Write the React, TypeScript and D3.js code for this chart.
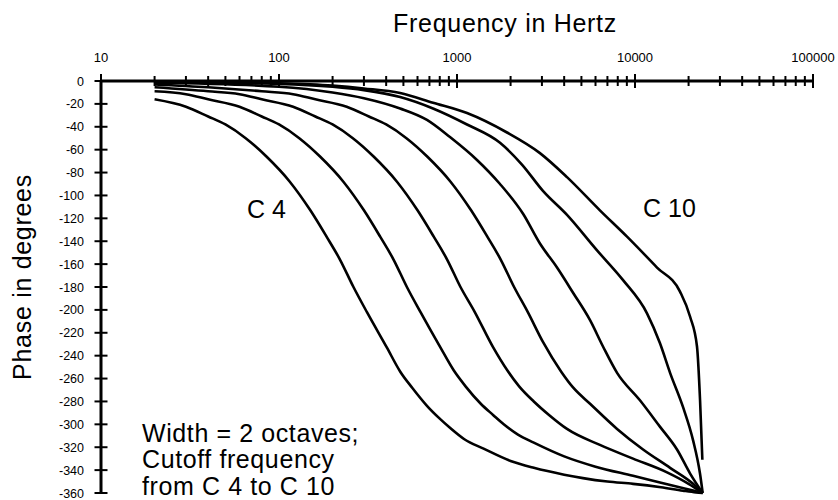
import React from "react";
import * as d3 from "d3";

const W = 838;
const H = 500;

const xMajorTicks = [10, 100, 1000, 10000, 100000];
const xMinorMult = [2, 3, 4, 5, 6, 7, 8, 9];
const yTicks = [0, -20, -40, -60, -80, -100, -120, -140, -160, -180, -200, -220, -240, -260, -280, -300, -320, -340, -360];

const c4F = [20, 30, 40, 50, 65, 85, 115, 150, 185, 220, 262, 312, 404, 480, 560, 680, 800, 913, 1100, 1400, 2000, 2700, 4000, 5100, 7000, 9750, 14000, 18600, 22000, 24000];
const c4P = [-16, -22.5, -31, -38, -50, -66, -88, -113, -136, -156, -180, -202, -233, -254, -268, -284, -295, -303, -313, -321, -332, -338, -344, -347, -350, -352, -355, -358, -359.5, -360];

const c5F = [20, 30, 40, 60, 80, 100, 130, 170, 230, 300, 370, 440, 523, 624, 808, 960, 1120, 1360, 1600, 1830, 2200, 2700, 4000, 6000, 9750, 14000, 19000, 22000, 24000];
const c5P = [-9, -11.5, -16, -22.5, -31, -38, -50, -66, -88, -113, -136, -156, -180, -202, -233, -253, -267, -282, -292, -300, -309, -316, -328, -337, -345, -351, -356, -358.5, -360];

const c6F = [20, 40, 60, 80, 120, 160, 200, 260, 340, 460, 600, 740, 880, 1046, 1250, 1600, 1920, 2240, 2700, 3300, 4150, 6350, 9750, 15130, 20000, 24000];
const c6P = [-5.5, -9, -11.5, -16, -22.5, -31, -38, -50, -66, -88, -113, -136, -156, -180, -201, -233, -253, -267, -280, -292, -304, -318, -330, -342, -352, -360];

const c7F = [20, 40, 80, 120, 160, 240, 320, 400, 520, 680, 920, 1200, 1480, 1760, 2093, 2500, 3040, 3850, 4500, 5590, 7930, 11100, 15740, 21200, 24000];
const c7P = [-3, -5.5, -9, -11.5, -16, -22.5, -31, -38, -50, -66, -88, -113, -136, -156, -180, -202, -228, -254, -268, -282, -304, -322, -338, -352, -360];

const c8F = [20, 100, 200, 300, 479, 678, 913, 1295, 1744, 2350, 2924, 3647, 4487, 5590, 6610, 7930, 10660, 13800, 17220, 20400, 24000];
const c8P = [-1.5, -5, -10, -15, -24, -34, -49, -69, -90, -116, -142, -163, -185, -209, -232, -255, -279, -302, -322, -343, -360];

const c9F = [20, 100, 200, 300, 479, 733, 1138, 1744, 2317, 3040, 4150, 6120, 8570, 11680, 13800, 15740, 18620, 21200, 23180, 24000];
const c9P = [-1, -2.5, -5, -8, -14, -24, -38, -54, -73, -96, -117, -148, -174, -203, -229, -255, -285, -314, -343, -360];

const c10F = [20, 100, 200, 300, 479, 733, 1138, 1910, 2924, 4150, 6350, 9020, 13300, 17900, 20400, 22300, 23200, 23900];
const c10P = [-0.5, -2, -4, -6.5, -10.5, -19, -28, -45, -63, -84, -113, -136, -163, -184, -206, -232, -279, -331];

const seriesF = [c4F, c5F, c6F, c7F, c8F, c9F, c10F];
const seriesP = [c4P, c5P, c6P, c7P, c8P, c9P, c10P];

const FONT = "'Liberation Sans', Arial, Helvetica, sans-serif";

export default function App() {
  const x = d3.scaleLog().domain([10, 100000]).range([101, 813]);
  const y = d3.scaleLinear().domain([0, -360]).range([81, 493]);

  const line = d3
    .line<[number, number]>()
    .x((d) => x(d[0]))
    .y((d) => y(d[1]))
    .curve(d3.curveMonotoneX);

  const minorTicks: number[] = [];
  xMajorTicks.slice(0, -1).forEach((m) => xMinorMult.forEach((k) => minorTicks.push(m * k)));

  const y0 = y(0);
  const x0 = x(10);

  return (
    <svg
      width={W}
      height={H}
      style={{ position: "absolute", left: 0, top: 0, background: "#fff" }}
      fontFamily={FONT}
    >
      <rect x={0} y={0} width={W} height={H} fill="#fff" />
      {/* x axis */}
      <line x1={x(10)} x2={x(100000)} y1={y0} y2={y0} stroke="#000" strokeWidth={3} />
      {minorTicks.map((t) => (
        <line key={"mi" + t} x1={x(t)} x2={x(t)} y1={y0 - 5} y2={y0 + 5} stroke="#000" strokeWidth={2} />
      ))}
      {xMajorTicks.map((t) => (
        <line key={"ma" + t} x1={x(t)} x2={x(t)} y1={y0 - 7} y2={y0 + 7} stroke="#000" strokeWidth={2} />
      ))}
      {xMajorTicks.map((t) => (
        <text key={"xl" + t} x={x(t)} y={62} fontSize={13} textAnchor="middle" fill="#000">
          {String(t)}
        </text>
      ))}
      {/* y axis */}
      <line x1={x0} x2={x0} y1={y(0)} y2={y(-360)} stroke="#000" strokeWidth={3} />
      {yTicks.map((t) => (
        <line key={"yt" + t} x1={x0 - 6.5} x2={x0 + 6.5} y1={y(t)} y2={y(t)} stroke="#000" strokeWidth={2} />
      ))}
      {yTicks.map((t) => (
        <text key={"yl" + t} x={84} y={y(t) + 4.5} fontSize={12.5} textAnchor="end" fill="#000">
          {String(t)}
        </text>
      ))}
      {/* curves */}
      {seriesF.map((fs, i) => {
        const pts = fs.map((f, j) => [f, seriesP[i][j]] as [number, number]);
        return (
          <path key={"c" + i} d={line(pts) || ""} fill="none" stroke="#000" strokeWidth={2.6} strokeLinejoin="round" />
        );
      })}
      {/* titles */}
      <text x={505} y={32} fontSize={25} letterSpacing={0.7} textAnchor="middle" fill="#000">
        Frequency in Hertz
      </text>
      <text
        transform={`translate(31,277) rotate(-90)`}
        fontSize={25}
        letterSpacing={0.7}
        textAnchor="middle"
        fill="#000"
      >
        Phase in degrees
      </text>
      <text x={247} y={218} fontSize={25} fill="#000">C 4</text>
      <text x={643} y={217} fontSize={25} fill="#000">C 10</text>
      <text x={142} y={442} fontSize={25} letterSpacing={0.6} fill="#000">Width = 2 octaves;</text>
      <text x={142} y={468} fontSize={25} letterSpacing={0.6} fill="#000">Cutoff frequency</text>
      <text x={142} y={495} fontSize={25} letterSpacing={0.6} fill="#000">from C 4 to C 10</text>
    </svg>
  );
}
